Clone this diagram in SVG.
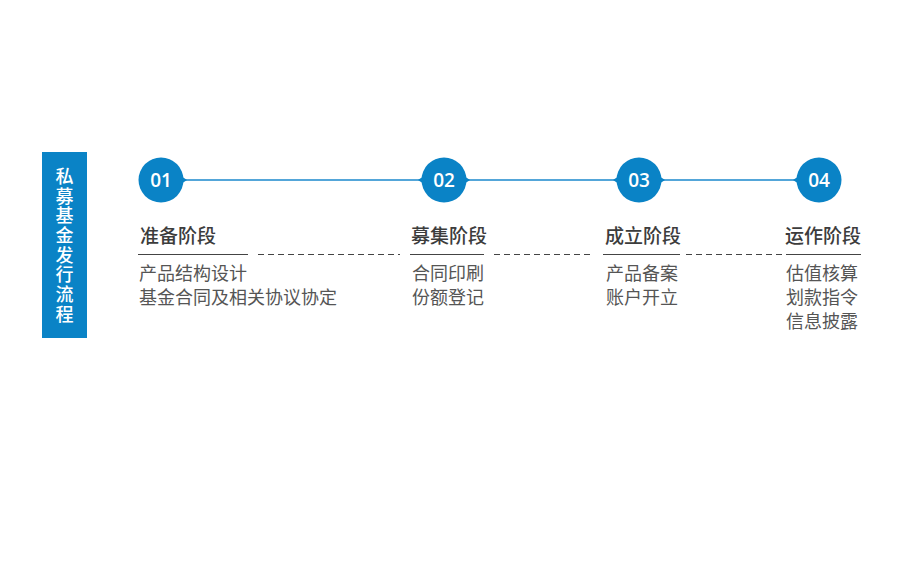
<svg xmlns="http://www.w3.org/2000/svg" width="902" height="570" viewBox="0 0 902 570">
<style>
.title{font-family:"Noto Sans CJK SC","Noto Sans",sans-serif;font-size:18px;font-weight:500;fill:#fff}
.num{font-family:"Open Sans","Noto Sans",sans-serif;font-size:19px;font-weight:600;fill:#fff;text-anchor:middle}
.head{font-family:"Noto Sans CJK SC",sans-serif;font-size:19px;font-weight:500;fill:#3c3c3c}
.body{font-family:"Noto Sans CJK SC",sans-serif;font-size:18px;fill:#555}
.solid{stroke:#444;stroke-width:1}
.dash{stroke:#444;stroke-width:1;stroke-dasharray:6 4}
.circ{fill:#0a83c6}
</style>
<rect x="42" y="152" width="45" height="186" fill="#0a83c6"/>
<g id="title">
<text class="title" x="64.5" y="167" style="writing-mode:vertical-rl;letter-spacing:1.7px">私募基金发行流程</text>
</g>
<g id="connectors">
<line x1="184" y1="180" x2="797" y2="180" stroke="#1a88cc" stroke-width="1.3"/>
<line class="dash" x1="258" y1="254.5" x2="400" y2="254.5"/>
<line class="dash" x1="494" y1="254.5" x2="594" y2="254.5"/>
<line class="dash" x1="686" y1="254.5" x2="782" y2="254.5"/>
</g>
<g id="step1">
<circle class="circ" cx="161" cy="180" r="22.5"/>
<path class="circ" d="M181 176 L187 180 L181 184 Z"/>
<text class="num" x="161" y="187">01</text>
<text class="head" x="140" y="243">准备阶段</text>
<line class="solid" x1="138" y1="254.5" x2="248" y2="254.5"/>
<text class="body" x="139" y="280">产品结构设计</text>
<text class="body" x="139" y="304">基金合同及相关协议协定</text>
</g>
<g id="step2">
<circle class="circ" cx="444" cy="180" r="22.5"/>
<path class="circ" d="M424 176 L418 180 L424 184 Z M464 176 L470 180 L464 184 Z"/>
<text class="num" x="444" y="187">02</text>
<text class="head" x="411" y="243">募集阶段</text>
<line class="solid" x1="410" y1="254.5" x2="484" y2="254.5"/>
<text class="body" x="412" y="280">合同印刷</text>
<text class="body" x="412" y="304">份额登记</text>
</g>
<g id="step3">
<circle class="circ" cx="639" cy="180" r="22.5"/>
<path class="circ" d="M619 176 L613 180 L619 184 Z M659 176 L665 180 L659 184 Z"/>
<text class="num" x="639" y="187">03</text>
<text class="head" x="605" y="243">成立阶段</text>
<line class="solid" x1="603" y1="254.5" x2="680" y2="254.5"/>
<text class="body" x="606" y="280">产品备案</text>
<text class="body" x="606" y="304">账户开立</text>
</g>
<g id="step4">
<circle class="circ" cx="819" cy="180" r="22.5"/>
<path class="circ" d="M799 176 L793 180 L799 184 Z"/>
<text class="num" x="819" y="187">04</text>
<text class="head" x="785" y="243">运作阶段</text>
<line class="solid" x1="786" y1="254.5" x2="861" y2="254.5"/>
<text class="body" x="786" y="280">估值核算</text>
<text class="body" x="786" y="304">划款指令</text>
<text class="body" x="786" y="328">信息披露</text>
</g>
</svg>
